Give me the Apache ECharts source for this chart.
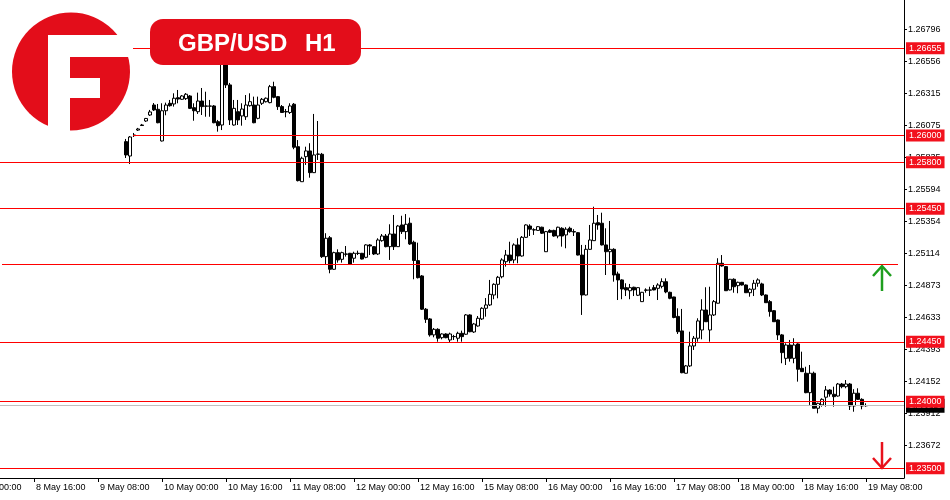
<!DOCTYPE html>
<html>
<head>
<meta charset="utf-8">
<title>GBP/USD H1</title>
<script src="https://cdn.jsdelivr.net/npm/echarts@6/dist/echarts.min.js"></script>
<style>
  html, body { margin: 0; padding: 0; background: #fff; }
  #main { width: 950px; height: 500px; }
</style>
</head>
<body>
<div id="main"></div>
<script>
// hourly sessions shown on the chart (weekend 13-14 May skipped)
const tradingDays = ['8 May', '9 May', '10 May', '11 May', '12 May', '15 May', '16 May', '17 May', '18 May', '19 May'];
const firstHour = '8 May 08:00';
const hourCount = 226;
const firstCandle = '9 May 15:00';
const cutLabel = '00:00';   // tail of the "8 May 00:00" label cut by the left edge

// price scale
const yMin = 1.23427;
const yMax = 1.27018;
const yTicks = [1.26796, 1.26556, 1.26315, 1.26075, 1.25835, 1.25594, 1.25354,
  1.25114, 1.24873, 1.24633, 1.24393, 1.24152, 1.23912, 1.23672];

// horizontal levels
const levels = [1.26655, 1.26000, 1.25800, 1.25450, 1.24450, 1.24000, 1.23500];
const trendLevel = 1.25035;
const trendEnd = '19 May 16:00';
const lastPrice = 1.23970;

// H1 candles [open, close, low, high]
const ohlc = [
  [1.25954, 1.25854, 1.25831, 1.25974],
  [1.25846, 1.25989, 1.25786, 1.25996],
  [1.26004, 1.25999, 1.25989, 1.26019],
  [1.26041, 1.26049, 1.26034, 1.26057],
  [1.26079, 1.26075, 1.26072, 1.26087],
  [1.26109, 1.26128, 1.26102, 1.26132],
  [1.26154, 1.26177, 1.26147, 1.26192],
  [1.26229, 1.26192, 1.26184, 1.26244],
  [1.26197, 1.26096, 1.26092, 1.26237],
  [1.25959, 1.26186, 1.25955, 1.26242],
  [1.26186, 1.26229, 1.26152, 1.26247],
  [1.26242, 1.26224, 1.26217, 1.26267],
  [1.26237, 1.26280, 1.26217, 1.26317],
  [1.26284, 1.26274, 1.26242, 1.26342],
  [1.26272, 1.26297, 1.26267, 1.26304],
  [1.26277, 1.26310, 1.26267, 1.26319],
  [1.26297, 1.26204, 1.26199, 1.26304],
  [1.26209, 1.26186, 1.26111, 1.26242],
  [1.26179, 1.26259, 1.26162, 1.26322],
  [1.26259, 1.26217, 1.26154, 1.26357],
  [1.26222, 1.26220, 1.26141, 1.26329],
  [1.26220, 1.26222, 1.26141, 1.26267],
  [1.26222, 1.26096, 1.26092, 1.26229],
  [1.26104, 1.26074, 1.26029, 1.26117],
  [1.26079, 1.26657, 1.26041, 1.26703],
  [1.26642, 1.26380, 1.26357, 1.26680],
  [1.26380, 1.26117, 1.26079, 1.26395],
  [1.26079, 1.26204, 1.26074, 1.26267],
  [1.26179, 1.26117, 1.26079, 1.26267],
  [1.26147, 1.26199, 1.26074, 1.26242],
  [1.26141, 1.26229, 1.26117, 1.26304],
  [1.26224, 1.26254, 1.26217, 1.26317],
  [1.26229, 1.26096, 1.26092, 1.26292],
  [1.26129, 1.26229, 1.26122, 1.26292],
  [1.26242, 1.26272, 1.26229, 1.26282],
  [1.26254, 1.26280, 1.26248, 1.26286],
  [1.26247, 1.26367, 1.26242, 1.26380],
  [1.26367, 1.26287, 1.26280, 1.26404],
  [1.26292, 1.26217, 1.26192, 1.26297],
  [1.26217, 1.26173, 1.26171, 1.26229],
  [1.26180, 1.26177, 1.26137, 1.26199],
  [1.26173, 1.26222, 1.26162, 1.26242],
  [1.26235, 1.25912, 1.25897, 1.26244],
  [1.25916, 1.25661, 1.25655, 1.25966],
  [1.25653, 1.25829, 1.25651, 1.25841],
  [1.25841, 1.25884, 1.25779, 1.25916],
  [1.25884, 1.25721, 1.25683, 1.25942],
  [1.25721, 1.25854, 1.25718, 1.26162],
  [1.25861, 1.25859, 1.25816, 1.26109],
  [1.25859, 1.25090, 1.25080, 1.25869],
  [1.25090, 1.25228, 1.25027, 1.25266],
  [1.25232, 1.24995, 1.24965, 1.25245],
  [1.24995, 1.25120, 1.24990, 1.25127],
  [1.25120, 1.25065, 1.25045, 1.25145],
  [1.25070, 1.25120, 1.25045, 1.25127],
  [1.25110, 1.25108, 1.25090, 1.25170],
  [1.25115, 1.25035, 1.25031, 1.25118],
  [1.25078, 1.25115, 1.25045, 1.25127],
  [1.25115, 1.25114, 1.25102, 1.25135],
  [1.25115, 1.25072, 1.25069, 1.25118],
  [1.25085, 1.25178, 1.25078, 1.25183],
  [1.25178, 1.25170, 1.25102, 1.25185],
  [1.25165, 1.25110, 1.25102, 1.25170],
  [1.25110, 1.25215, 1.25102, 1.25228],
  [1.25210, 1.25245, 1.25202, 1.25260],
  [1.25245, 1.25165, 1.25160, 1.25260],
  [1.25165, 1.25260, 1.25065, 1.25333],
  [1.25260, 1.25165, 1.25140, 1.25403],
  [1.25165, 1.25320, 1.25163, 1.25328],
  [1.25328, 1.25278, 1.25260, 1.25397],
  [1.25278, 1.25333, 1.25220, 1.25410],
  [1.25341, 1.25185, 1.25178, 1.25383],
  [1.25198, 1.25061, 1.24920, 1.25210],
  [1.25060, 1.24932, 1.24926, 1.25195],
  [1.24945, 1.24695, 1.24689, 1.24952],
  [1.24695, 1.24619, 1.24592, 1.24704],
  [1.24622, 1.24502, 1.24489, 1.24629],
  [1.24502, 1.24544, 1.24484, 1.24554],
  [1.24544, 1.24477, 1.24451, 1.24552],
  [1.24481, 1.24509, 1.24469, 1.24514],
  [1.24509, 1.24481, 1.24477, 1.24514],
  [1.24464, 1.24509, 1.24444, 1.24519],
  [1.24489, 1.24490, 1.24464, 1.24502],
  [1.24477, 1.24514, 1.24451, 1.24526],
  [1.24514, 1.24489, 1.24451, 1.24534],
  [1.24507, 1.24652, 1.24502, 1.24659],
  [1.24652, 1.24526, 1.24522, 1.24657],
  [1.24524, 1.24584, 1.24517, 1.24592],
  [1.24569, 1.24627, 1.24564, 1.24644],
  [1.24622, 1.24702, 1.24614, 1.24710],
  [1.24702, 1.24727, 1.24639, 1.24779],
  [1.24727, 1.24807, 1.24719, 1.24915],
  [1.24802, 1.24882, 1.24770, 1.24890],
  [1.24882, 1.24935, 1.24777, 1.24945],
  [1.24939, 1.25065, 1.24927, 1.25078],
  [1.25052, 1.25102, 1.25015, 1.25140],
  [1.25102, 1.25060, 1.25040, 1.25202],
  [1.25065, 1.25178, 1.25040, 1.25190],
  [1.25178, 1.25095, 1.25040, 1.25228],
  [1.25095, 1.25235, 1.25090, 1.25245],
  [1.25235, 1.25328, 1.25230, 1.25333],
  [1.25320, 1.25296, 1.25245, 1.25333],
  [1.25292, 1.25290, 1.25253, 1.25303],
  [1.25287, 1.25315, 1.25285, 1.25320],
  [1.25311, 1.25266, 1.25260, 1.25315],
  [1.25127, 1.25278, 1.25125, 1.25283],
  [1.25287, 1.25273, 1.25268, 1.25296],
  [1.25287, 1.25245, 1.25240, 1.25292],
  [1.25245, 1.25311, 1.25228, 1.25315],
  [1.25303, 1.25245, 1.25165, 1.25311],
  [1.25253, 1.25296, 1.25153, 1.25311],
  [1.25303, 1.25278, 1.25270, 1.25315],
  [1.25278, 1.25275, 1.25245, 1.25296],
  [1.25270, 1.25102, 1.25099, 1.25275],
  [1.25102, 1.24802, 1.24652, 1.25178],
  [1.24802, 1.25145, 1.24798, 1.25178],
  [1.25145, 1.25215, 1.25140, 1.25328],
  [1.25210, 1.25341, 1.25208, 1.25465],
  [1.25345, 1.25328, 1.25292, 1.25403],
  [1.25341, 1.25178, 1.25174, 1.25420],
  [1.25178, 1.25127, 1.24952, 1.25303],
  [1.25127, 1.25145, 1.25027, 1.25358],
  [1.25145, 1.24952, 1.24902, 1.25153],
  [1.24960, 1.24915, 1.24764, 1.24977],
  [1.24915, 1.24847, 1.24770, 1.24920],
  [1.24857, 1.24840, 1.24794, 1.24890],
  [1.24834, 1.24857, 1.24770, 1.24885],
  [1.24860, 1.24840, 1.24794, 1.24864],
  [1.24800, 1.24857, 1.24794, 1.24860],
  [1.24752, 1.24822, 1.24749, 1.24825],
  [1.24840, 1.24837, 1.24819, 1.24852],
  [1.24840, 1.24838, 1.24794, 1.24864],
  [1.24857, 1.24840, 1.24837, 1.24877],
  [1.24852, 1.24877, 1.24764, 1.24890],
  [1.24867, 1.24902, 1.24852, 1.24927],
  [1.24902, 1.24825, 1.24815, 1.24927],
  [1.24822, 1.24777, 1.24770, 1.24827],
  [1.24787, 1.24633, 1.24627, 1.24789],
  [1.24641, 1.24526, 1.24509, 1.24702],
  [1.24532, 1.24218, 1.24214, 1.24697],
  [1.24214, 1.24269, 1.24212, 1.24276],
  [1.24269, 1.24419, 1.24261, 1.24526],
  [1.24419, 1.24477, 1.24389, 1.24494],
  [1.24477, 1.24607, 1.24451, 1.24627],
  [1.24539, 1.24689, 1.24469, 1.24770],
  [1.24689, 1.24601, 1.24599, 1.24860],
  [1.24539, 1.24652, 1.24451, 1.24864],
  [1.24652, 1.24752, 1.24644, 1.24764],
  [1.24740, 1.25040, 1.24738, 1.25078],
  [1.25040, 1.25020, 1.25015, 1.25102],
  [1.25015, 1.24834, 1.24832, 1.25020],
  [1.24840, 1.24920, 1.24836, 1.24922],
  [1.24920, 1.24864, 1.24819, 1.24927],
  [1.24872, 1.24897, 1.24815, 1.24902],
  [1.24897, 1.24877, 1.24873, 1.24900],
  [1.24877, 1.24819, 1.24817, 1.24881],
  [1.24819, 1.24845, 1.24789, 1.24852],
  [1.24845, 1.24890, 1.24794, 1.24915],
  [1.24890, 1.24915, 1.24864, 1.24927],
  [1.24885, 1.24802, 1.24794, 1.24894],
  [1.24802, 1.24744, 1.24742, 1.24806],
  [1.24752, 1.24677, 1.24639, 1.24764],
  [1.24684, 1.24601, 1.24599, 1.24689],
  [1.24614, 1.24502, 1.24464, 1.24618],
  [1.24502, 1.24369, 1.24289, 1.24509],
  [1.24326, 1.24426, 1.24276, 1.24439],
  [1.24426, 1.24326, 1.24301, 1.24464],
  [1.24326, 1.24426, 1.24289, 1.24477],
  [1.24434, 1.24244, 1.24151, 1.24439],
  [1.24251, 1.24226, 1.24224, 1.24376],
  [1.24214, 1.24068, 1.24064, 1.24263],
  [1.24068, 1.24214, 1.23976, 1.24276],
  [1.24214, 1.23951, 1.23950, 1.24226],
  [1.23951, 1.23988, 1.23913, 1.23993],
  [1.23976, 1.24018, 1.23963, 1.24026],
  [1.24034, 1.24088, 1.23963, 1.24118],
  [1.24088, 1.24058, 1.24038, 1.24094],
  [1.24056, 1.24038, 1.23963, 1.24113],
  [1.24043, 1.24133, 1.24038, 1.24141],
  [1.24133, 1.24113, 1.24101, 1.24141],
  [1.24113, 1.24133, 1.24101, 1.24163],
  [1.24133, 1.23968, 1.23938, 1.24141],
  [1.23968, 1.24064, 1.23925, 1.24094],
  [1.24064, 1.24018, 1.24013, 1.24101],
  [1.24018, 1.23968, 1.23943, 1.24026],
  [1.23970, 1.23971, 1.23963, 1.23988]
];

const allHours = [];
tradingDays.forEach(function (d) {
  for (let h = 0; h < 24; h++) {
    allHours.push(d + ' ' + (h < 10 ? '0' + h : h) + ':00');
  }
});
const firstIdx = allHours.indexOf(firstHour);
const categories = allHours.slice(firstIdx, firstIdx + hourCount);

const start = categories.indexOf(firstCandle);
const candleData = categories.map(function (c, i) {
  const row = ohlc[i - start];
  return row ? row : ['-', '-', '-', '-'];
});

// labels every 16 hours, on 00:00 / 08:00 / 16:00
function onLabel(i) {
  return categories[i].slice(-5) === '16:00' || categories[i].slice(-5) === '08:00' || categories[i].slice(-5) === '00:00'
    ? (i % 16 === 8) : false;
}

const LOGO_RED = '#e30d1a';
const LEVEL_RED = '#ff0000';
const BOX_RED = '#f2111d';

const levelLines = levels.map(function (v) {
  return {
    yAxis: v,
    lineStyle: { color: LEVEL_RED, width: 1, type: 'solid' },
    label: {
      show: true,
      position: 'end',
      distance: 2,
      formatter: function () { return v.toFixed(5); },
      color: '#fff',
      backgroundColor: BOX_RED,
      fontFamily: 'Liberation Sans',
      fontSize: 9,
      lineHeight: 10,
      padding: [1, 3, 1, 3]
    }
  };
});

let myChart = echarts.init(document.getElementById('main'), null, { renderer: 'canvas' });
let option = {
  backgroundColor: '#fff',
  animation: false,
  grid: { left: 0, right: 46, top: 0, bottom: 22 },
  xAxis: {
    type: 'category',
    data: categories,
    boundaryGap: true,
    axisLine: { show: true, lineStyle: { color: '#000', width: 1 } },
    axisTick: {
      show: true,
      alignWithLabel: true,
      length: 4,
      interval: onLabel,
      lineStyle: { color: '#000' }
    },
    axisLabel: {
      show: true,
      interval: onLabel,
      align: 'left',
      margin: 5,
      padding: [0, 0, 0, 2],
      color: '#000',
      fontFamily: 'Liberation Sans',
      fontSize: 9
    },
    splitLine: { show: false }
  },
  yAxis: {
    type: 'value',
    position: 'right',
    min: yMin,
    max: yMax,
    scale: true,
    axisLine: { show: true, lineStyle: { color: '#000', width: 1 } },
    axisTick: {
      show: true,
      length: 3,
      customValues: yTicks,
      lineStyle: { color: '#000' }
    },
    axisLabel: {
      show: true,
      customValues: yTicks,
      margin: 4,
      padding: [0, 0, 4, 0],
      color: '#000',
      fontFamily: 'Liberation Sans',
      fontSize: 9,
      formatter: function (v) { return v.toFixed(5); }
    },
    splitLine: { show: false }
  },
  series: [{
    type: 'candlestick',
    data: candleData,
    barWidth: 3,
    itemStyle: {
      color: '#fff',
      color0: '#000',
      borderColor: '#000',
      borderColor0: '#000',
      borderWidth: 1
    },
    markLine: {
      silent: true,
      symbol: ['none', 'none'],
      precision: 5,
      animation: false,
      data: [
        {
          yAxis: lastPrice,
          lineStyle: { color: '#c0c0c0', width: 1, type: 'solid' },
          label: {
            show: true,
            position: 'end',
            distance: 2,
            formatter: function () { return lastPrice.toFixed(5); },
            color: '#fff',
            backgroundColor: '#000',
            fontFamily: 'Liberation Sans',
            fontSize: 9,
            lineHeight: 10,
            padding: [2, 3, 2, 3]
          }
        },
        [
          { coord: [categories[0], trendLevel], lineStyle: { color: LEVEL_RED, width: 1, type: 'solid' }, label: { show: false } },
          { coord: [trendEnd, trendLevel] }
        ]
      ].concat(levelLines)
    }
  }],
  graphic: [
    // cut-off first time label
    { type: 'text', z: 10, style: { x: -1, y: 488, text: cutLabel, fill: '#000', font: '9px "Liberation Sans"', verticalAlign: 'middle' } },
    // logo background
    { type: 'rect', z: 100, shape: { x: 0, y: 0, width: 133, height: 136 }, style: { fill: '#fff' } },
    { type: 'circle', z: 101, shape: { cx: 71, cy: 71.5, r: 59 }, style: { fill: LOGO_RED } },
    { type: 'rect', z: 102, shape: { x: 48, y: 35, width: 22, height: 100 }, style: { fill: '#fff' } },
    { type: 'rect', z: 102, shape: { x: 48, y: 35, width: 85, height: 22 }, style: { fill: '#fff' } },
    { type: 'rect', z: 102, shape: { x: 70, y: 78, width: 30, height: 20 }, style: { fill: '#fff' } },
    // title badge
    { type: 'rect', z: 100, shape: { x: 150, y: 19, width: 211, height: 46, r: 13 }, style: { fill: LOGO_RED } },
    { type: 'text', z: 101, style: { x: 178, y: 44, text: 'GBP/USD', fill: '#fff', font: 'bold 24px "Liberation Sans"', verticalAlign: 'middle' } },
    { type: 'text', z: 101, style: { x: 305, y: 44, text: 'H1', fill: '#fff', font: 'bold 24px "Liberation Sans"', verticalAlign: 'middle' } },
    // arrows
    { type: 'polyline', z: 100, shape: { points: [[882, 291], [882, 267]] }, style: { stroke: '#1e9e1e', lineWidth: 2.5 } },
    { type: 'polyline', z: 100, shape: { points: [[873, 276], [882, 266], [891, 276]] }, style: { stroke: '#1e9e1e', lineWidth: 2.5, fill: null } },
    { type: 'polyline', z: 100, shape: { points: [[882, 442], [882, 467]] }, style: { stroke: '#e8121c', lineWidth: 2.5 } },
    { type: 'polyline', z: 100, shape: { points: [[873, 458], [882, 468], [891, 458]] }, style: { stroke: '#e8121c', lineWidth: 2.5, fill: null } }
  ]
};
myChart.setOption(option);
window.onresize = myChart.resize;
</script>
</body>
</html>
